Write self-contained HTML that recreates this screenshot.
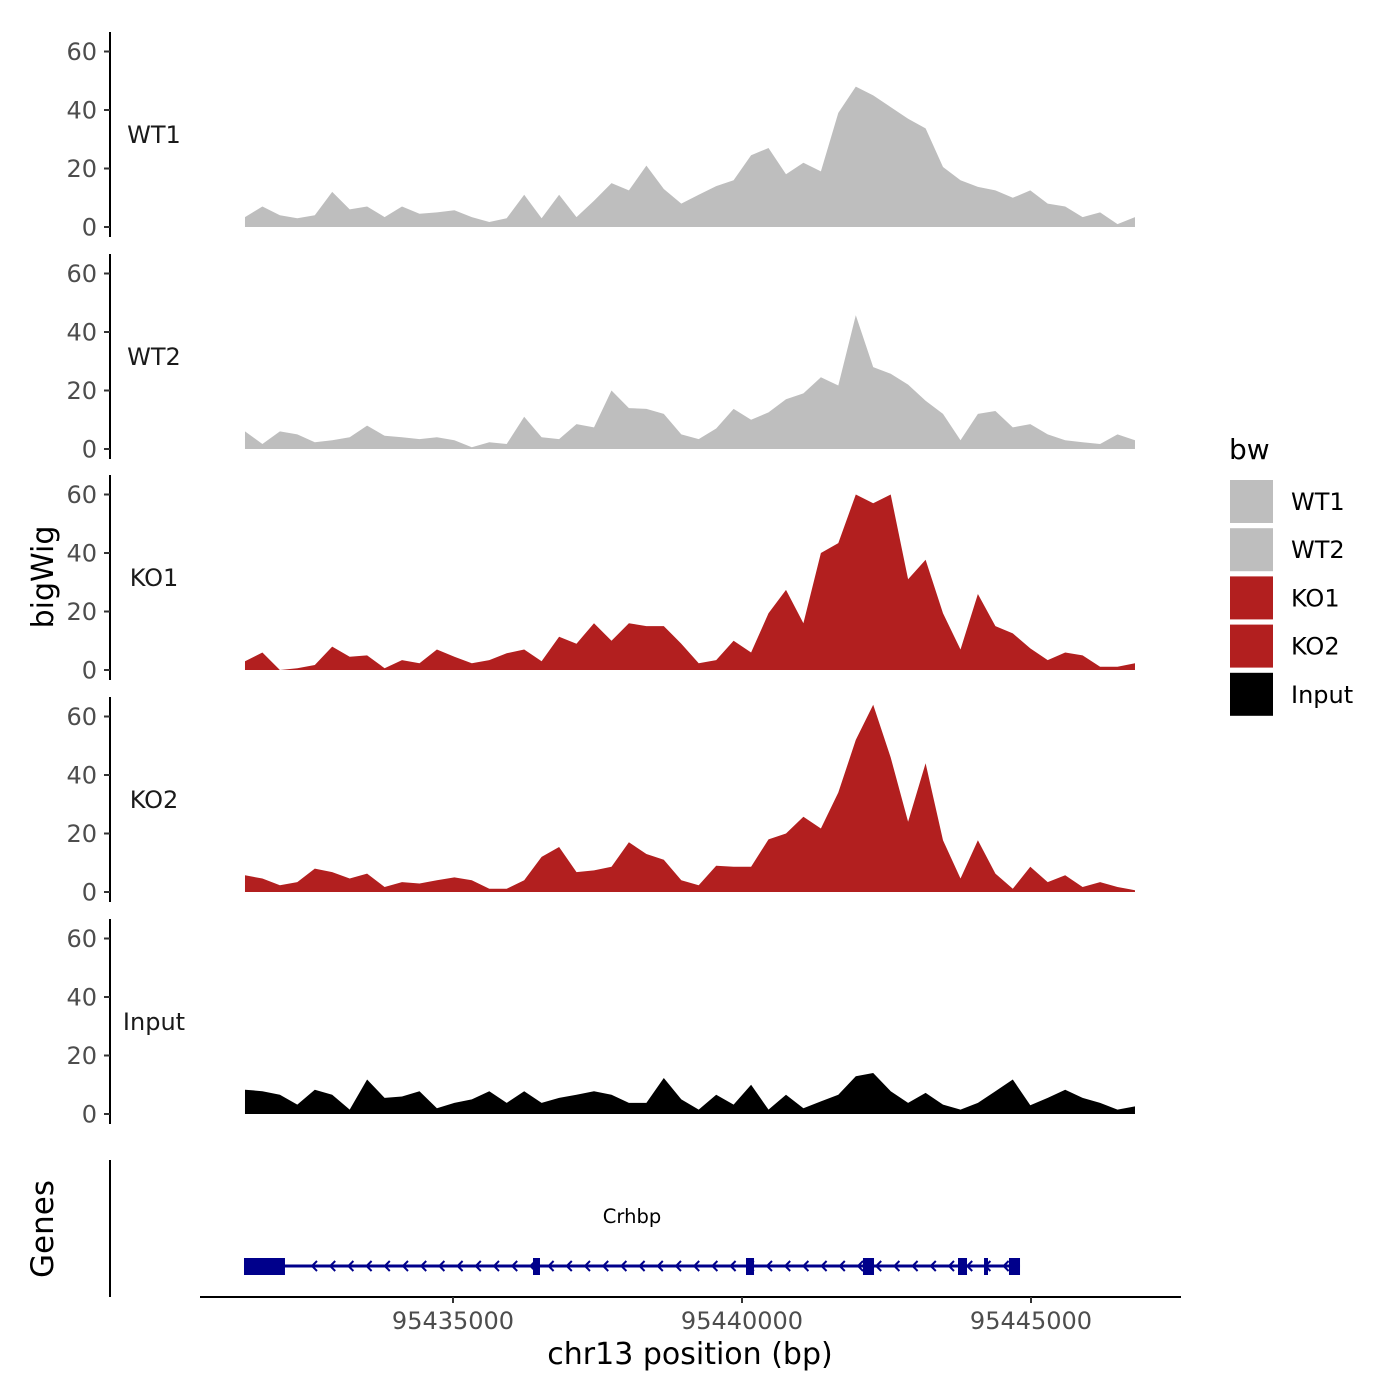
<!DOCTYPE html>
<html><head><meta charset="utf-8"><style>
html,body{margin:0;padding:0;background:#fff;}
svg{display:block;font-family:"DejaVu Sans","Liberation Sans",sans-serif;}
</style></head><body>
<svg id="chart" width="1400" height="1400" viewBox="0 0 1400 1400" xmlns="http://www.w3.org/2000/svg"></svg>
<script>
const seriesNames = ["WT1","WT2","KO1","KO2","Input"];
const seriesColors = ["#bebebe","#bebebe","#b21f1f","#b21f1f","#000000"];
const yTicks = [0,20,40,60];
const xTicks = [95435000,95440000,95445000];
const xTickLabels = ["95435000","95440000","95445000"];
const regionStart = 95431401;
const regionEnd = 95446799;
const wt1 = [3.4,7,4,3,4,12,6,7,3.4,7,4.5,5,5.7,3.4,1.7,3,11,3,11,3.4,9,15,12.5,21,13,8,11,14,16,24.5,27,18,22,19,39,48,45,41,37,33.7,20.5,16,13.7,12.5,10,12.5,8,7,3.4,5,1,3.4];
const wt2 = [6,1.7,6,5,2.3,3,4,8,4.5,4,3.4,4,3,0.6,2.3,1.7,11,4,3.4,8.5,7.4,20,14,13.7,12,5,3.4,7,13.7,10,12.5,17,19,24.5,21.7,45.7,28,25.7,22,16.5,12,3,12,13,7.4,8.5,5,3,2.3,1.7,5,3];
const ko1 = [3,6,0,0.6,1.7,8,4.5,5,0.6,3.4,2.3,7,4.5,2.3,3.4,5.7,7,3,11.4,9,16,10,16,15,15,9,2.3,3.4,10,6,19.4,27.4,16,40,43.4,60,57,60,31,37.7,19.4,7,26,15,12.5,7.4,3.4,6,5,1.1,1.1,2.3];
const ko2 = [5.7,4.6,2.3,3.4,8,6.8,4.6,6.3,1.7,3.4,2.9,4,5,4,1.1,1.1,4,12,15.4,6.8,7.4,8.6,17,13,11,4,2.3,9,8.6,8.6,18,20,25.7,21.7,34,52,64,46,24,44,17.7,4.6,17.7,6.3,1.1,8.6,3.4,5.7,1.7,3.4,1.7,0.6];
const input = [8.3,7.8,6.6,3.2,8.3,6.6,1.5,11.8,5.5,6,7.8,2,3.8,5,7.8,3.8,7.8,3.8,5.5,6.6,7.8,6.6,3.8,3.8,12.3,5,1.5,6.6,3.2,10,1.5,6.6,2,4.3,6.6,12.9,14,7.8,3.8,7.2,3.2,1.5,3.8,7.8,11.8,3,5.5,8.3,5.5,3.8,1.5,2.6];
const geneName = "Crhbp";
const exonStarts = [95431384,95436384,95440069,95442093,95443737,95444187,95444619];
const exonEnds = [95432093,95436505,95440208,95442284,95443893,95444256,95444810];
const geneStart = 95431384, geneEnd = 95444810;

const allData = [wt1,wt2,ko1,ko2,input];
const svg = document.getElementById('chart');
const NS = "http://www.w3.org/2000/svg";
function mk(tag, attrs, parent){const e=document.createElementNS(NS,tag);for(const k in attrs)e.setAttribute(k,attrs[k]);(parent||svg).appendChild(e);return e;}
function xScale(bp){return 453 + (bp-95435000)/5000*289;}
const baselines = [227,449,670,892,1114];
const pxPerUnit = 175.5/60;
function yScale(v,i){return baselines[i]-v*pxPerUnit;}

for(let i=0;i<5;i++){
  const g = mk('g',{});
  
  
  const top = baselines[i]-195, bot = baselines[i]+10;
  const ax = mk('line',{x1:110,x2:110,y1:top,y2:bot,stroke:'#000','stroke-width':2},g);
  
  
  yTicks.forEach(t=>{
    const y=yScale(t,i);
    const tk = mk('line',{x1:104,x2:110,y1:y,y2:y,stroke:'#333','stroke-width':2},g);
    
    
    const tl = mk('text',{x:97,y:y+8.5,'text-anchor':'end','font-size':24,fill:'#4d4d4d'},g);
    tl.textContent=t;
    
    
  });
  const lb = mk('text',{x:154,y:baselines[i]-84,'text-anchor':'middle','font-size':24,fill:'#1a1a1a'},g);
  lb.textContent=seriesNames[i];
  
  
  const d = allData[i], n=d.length;
  let p = 'M'+xScale(regionStart)+','+baselines[i];
  d.forEach((v,j)=>{const bp=regionStart+(regionEnd-regionStart)*j/(n-1);p+=' L'+xScale(bp).toFixed(1)+','+yScale(v,i).toFixed(1);});
  p+=' L'+xScale(regionEnd)+','+baselines[i]+' Z';
  const ar = mk('path',{d:p,fill:seriesColors[i]},g);
  
  
}
const yt = mk('text',{x:0,y:0,transform:'translate(53,577) rotate(-90)','text-anchor':'middle','font-size':30,fill:'#000'});
yt.textContent='bigWig';


const gg = mk('g',{});


const gax = mk('line',{x1:110,x2:110,y1:1160,y2:1297,stroke:'#000','stroke-width':2},gg);


const gt = mk('text',{x:0,y:0,transform:'translate(53,1229) rotate(-90)','text-anchor':'middle','font-size':31,fill:'#000'},gg);
gt.textContent='Genes';


const gl = mk('line',{x1:xScale(geneStart),x2:xScale(geneEnd),y1:1266,y2:1266,stroke:'#00008b','stroke-width':3},gg);


for(let x=xScale(geneStart)+70;x<xScale(geneEnd)-8;x+=18.2){
  const c = mk('path',{d:`M${x+3},${1261} L${x-2},${1266} L${x+3},${1271}`,stroke:'#00008b','stroke-width':2,fill:'none'},gg);
  
  
}
exonStarts.forEach((s,k)=>{
  const r = mk('rect',{x:xScale(s),y:1258,width:Math.max(3,xScale(exonEnds[k])-xScale(s)),height:17,fill:'#00008b'},gg);
  
  
});
const gn = mk('text',{x:632,y:1223,'text-anchor':'middle','font-size':19.5,fill:'#000'},gg);
gn.textContent=geneName;


const xa = mk('line',{x1:200,x2:1181,y1:1297,y2:1297,stroke:'#000','stroke-width':2});


xTicks.forEach((t,k)=>{
  const x=xScale(t);
  const tk = mk('line',{x1:x,x2:x,y1:1297,y2:1303,stroke:'#333','stroke-width':2});
  
  
  const tl = mk('text',{x:x,y:1329,'text-anchor':'middle','font-size':24,fill:'#4d4d4d'});
  tl.textContent=xTickLabels[k];
  
  
});
const xt = mk('text',{x:690,y:1364,'text-anchor':'middle','font-size':30,fill:'#000'});
xt.textContent='chr13 position (bp)';


const lg = mk('g',{});


const ltt = mk('text',{x:1229,y:459,'font-size':28,fill:'#000'},lg);
ltt.textContent='bw';


seriesNames.forEach((nm,k)=>{
  const y=480+k*48.2;
  const r = mk('rect',{x:1230,y:y,width:43,height:43,fill:seriesColors[k]},lg);
  
  
  const t = mk('text',{x:1291,y:y+30,'font-size':24,fill:'#000'},lg);
  t.textContent=nm;
  
  
});
</script>
</body></html>
